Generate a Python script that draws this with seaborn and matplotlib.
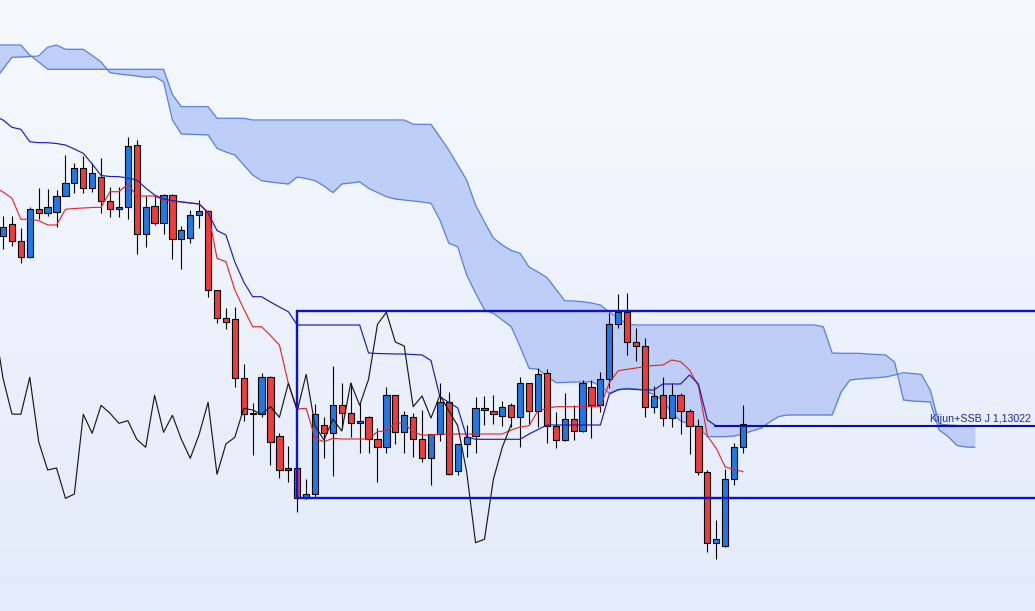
"""Ichimoku-график: свечи, Tenkan/Kijun/Chikou, облако и рамка диапазона."""
import matplotlib

matplotlib.use("Agg")
import matplotlib.pyplot as plt
import numpy as np
import seaborn as sns

sns.set_style("white")
plt.rcParams["font.family"] = ["Liberation Sans", "DejaVu Sans"]

# --------------------------------------------------------------------------- #
# Данные (цены), свечи с индексами 0..83
# --------------------------------------------------------------------------- #
opens = [1.14922, 1.15039, 1.14869, 1.14709, 1.15189, 1.15149, 1.15162, 1.15322, 1.15449, 1.15599,
         1.15399, 1.15515, 1.15275, 1.15189, 1.15209, 1.15832, 1.14939, 1.15222, 1.15055, 1.15329,
         1.14889, 1.14899, 1.15132, 1.15172, 1.14382, 1.14102, 1.14089, 1.13499, 1.13145, 1.13142,
         1.13509, 1.12922, 1.12582, 1.12599, 1.12299, 1.12339, 1.13035, 1.12949, 1.13229, 1.13149,
         1.13049, 1.13115, 1.12889, 1.12809, 1.13329, 1.12959, 1.13115, 1.12889, 1.12699, 1.12939,
         1.13259, 1.12572, 1.12842, 1.12922, 1.13199, 1.13175, 1.13122, 1.13229, 1.13109, 1.13449,
         1.13172, 1.13549, 1.13022, 1.12882, 1.13089, 1.12972, 1.13409, 1.13229, 1.13489, 1.14039,
         1.14159, 1.13862, 1.13822, 1.13215, 1.13329, 1.13102, 1.13329, 1.13175, 1.13025, 1.12565,
         1.11855, 1.11825, 1.12489, 1.12809]
highs = [1.15122, 1.15122, 1.15002, 1.15209, 1.15402, 1.15392, 1.15382, 1.15732, 1.15655, 1.15722,
         1.15655, 1.15699, 1.15409, 1.15409, 1.15909, 1.15882, 1.15322, 1.15322, 1.15342, 1.15342,
         1.15022, 1.15182, 1.15282, 1.15182, 1.14385, 1.14199, 1.14215, 1.13642, 1.13249, 1.13555,
         1.13522, 1.12955, 1.12822, 1.12605, 1.12489, 1.13242, 1.13109, 1.13622, 1.13449, 1.13455,
         1.13249, 1.13120, 1.12999, 1.13409, 1.13335, 1.13175, 1.13155, 1.13182, 1.12945, 1.13449,
         1.13365, 1.12845, 1.13032, 1.13315, 1.13322, 1.13332, 1.13275, 1.13249, 1.13509, 1.13455,
         1.13599, 1.13589, 1.13165, 1.13349, 1.13232, 1.13482, 1.13482, 1.13565, 1.14149, 1.14342,
         1.14355, 1.13999, 1.13899, 1.13422, 1.13509, 1.13449, 1.13349, 1.13189, 1.13089, 1.12582,
         1.12082, 1.12589, 1.12849, 1.13232]
lows = [1.14792, 1.14822, 1.14655, 1.14700, 1.15092, 1.15122, 1.15012, 1.15322, 1.15349, 1.15355,
        1.15365, 1.15149, 1.15109, 1.15109, 1.15089, 1.14742, 1.14815, 1.15032, 1.14942, 1.14689,
        1.14589, 1.14849, 1.14999, 1.14312, 1.14055, 1.13989, 1.13415, 1.13075, 1.12732, 1.13109,
        1.12632, 1.12499, 1.12465, 1.12165, 1.12295, 1.12315, 1.12699, 1.12525, 1.12989, 1.12915,
        1.12755, 1.12755, 1.12465, 1.12755, 1.12842, 1.12749, 1.12715, 1.12665, 1.12432, 1.12875,
        1.12529, 1.12529, 1.12715, 1.12749, 1.13032, 1.13042, 1.13022, 1.13015, 1.12815, 1.13032,
        1.13015, 1.12855, 1.12799, 1.12875, 1.12882, 1.12965, 1.12899, 1.13165, 1.13399, 1.13999,
        1.13732, 1.13675, 1.13115, 1.13149, 1.13022, 1.13009, 1.12942, 1.12742, 1.12532, 1.11765,
        1.11689, 1.11815, 1.12432, 1.12755]
closes = [1.15015, 1.14869, 1.14709, 1.15189, 1.15149, 1.15209, 1.15322, 1.15449, 1.15599, 1.15399,
          1.15549, 1.15275, 1.15189, 1.15209, 1.15822, 1.14939, 1.15209, 1.15055, 1.15329, 1.14889,
          1.14982, 1.15132, 1.15172, 1.14382, 1.14102, 1.14059, 1.13499, 1.13142, 1.13139, 1.13509,
          1.12865, 1.12582, 1.12602, 1.12299, 1.12342, 1.13139, 1.12949, 1.13229, 1.13149, 1.13049,
          1.13075, 1.12889, 1.12809, 1.13329, 1.12959, 1.13129, 1.12889, 1.12699, 1.12939, 1.13259,
          1.12539, 1.12842, 1.12909, 1.13199, 1.13182, 1.13139, 1.13215, 1.13109, 1.13449, 1.13172,
          1.13539, 1.13022, 1.12882, 1.13089, 1.12972, 1.13452, 1.13229, 1.13489, 1.14039, 1.14159,
          1.13862, 1.13822, 1.13215, 1.13322, 1.13102, 1.13329, 1.13175, 1.13025, 1.12565, 1.11855,
          1.11889, 1.12489, 1.12809, 1.13039]

# линии начинаются с индекса -1 (свеча слева за краем)
tenkan = [1.15412, 1.15362, 1.15299, 1.15089, 1.15089, 1.15077, 1.15032, 1.15032, 1.15189, 1.15197,
          1.15202, 1.15207, 1.15209, 1.15365, 1.15365, 1.15442, 1.15322, 1.15322, 1.15322, 1.15282,
          1.15265, 1.15265, 1.15252, 1.15242, 1.15162, 1.14699, 1.14665, 1.14382, 1.14192, 1.14015,
          1.14015, 1.13927, 1.13832, 1.13449, 1.13192, 1.13199, 1.12899, 1.12865, 1.12899, 1.12892,
          1.12892, 1.12892, 1.12892, 1.12965, 1.12975, 1.13049, 1.13049, 1.12962, 1.12932, 1.12932,
          1.12942, 1.12942, 1.12942, 1.12942, 1.12942, 1.12942, 1.12942, 1.12942, 1.12982, 1.13012,
          1.13025, 1.13175, 1.13197, 1.13215, 1.13215, 1.13215, 1.13215, 1.13215, 1.13215, 1.13452,
          1.13575, 1.13589, 1.13602, 1.13617, 1.13627, 1.13632, 1.13682, 1.13665, 1.13582, 1.13422,
          1.12922, 1.12799, 1.12612, 1.12589, 1.12565]
kijun = [1.16122, 1.16082, 1.16009, 1.15989, 1.15865, 1.15855, 1.15855, 1.15847, 1.15832, 1.15792,
         1.15749, 1.15642, 1.15527, 1.15517, 1.15515, 1.15502, 1.15482, 1.15402, 1.15332, 1.15292,
         1.15277, 1.15262, 1.15252, 1.15242, 1.15152, 1.14977, 1.14932, 1.14662, 1.14462, 1.14315,
         1.14315, 1.14262, 1.14212, 1.14165, 1.14032, 1.14032, 1.14032, 1.14032, 1.14032, 1.14032,
         1.14032, 1.14032, 1.13752, 1.13747, 1.13745, 1.13742, 1.13742, 1.13737, 1.13732, 1.13677,
         1.13315, 1.13259, 1.13202, 1.12915, 1.12889, 1.12889, 1.12889, 1.12889, 1.12889, 1.12889,
         1.12942, 1.12987, 1.13032, 1.13032, 1.13032, 1.13032, 1.13032, 1.13032, 1.13032, 1.13342,
         1.13387, 1.13392, 1.13387, 1.13382, 1.13382, 1.13442, 1.13442, 1.13442, 1.13532, 1.13442,
         1.13082, 1.13022, 1.13022, 1.13022, 1.13022]
# облако: индексы -1..109 (сдвиг на 26 вперёд)
span_a = [1.16832, 1.16832, 1.16832, 1.16832, 1.16732, 1.16662, 1.16589, 1.16589, 1.16589, 1.16589,
          1.16589, 1.16589, 1.16589, 1.16589, 1.16589, 1.16589, 1.16589, 1.16589, 1.16589, 1.16589,
          1.16337, 1.16215, 1.16215, 1.16215, 1.16215, 1.16099, 1.16099, 1.16099, 1.16099, 1.16082,
          1.16082, 1.16082, 1.16082, 1.16082, 1.16082, 1.16082, 1.16082, 1.16082, 1.16082, 1.16082,
          1.16082, 1.16082, 1.16082, 1.16082, 1.16082, 1.16082, 1.16082, 1.16039, 1.16039, 1.16039,
          1.15912, 1.15782, 1.15632, 1.15482, 1.15232, 1.15062, 1.14902, 1.14832, 1.14777, 1.14749,
          1.14612, 1.14562, 1.14507, 1.14392, 1.14275, 1.14272, 1.14265, 1.14252, 1.14232, 1.14162,
          1.14102, 1.14042, 1.14032, 1.14032, 1.14032, 1.14032, 1.14032, 1.14032, 1.14032, 1.14032,
          1.14032, 1.14032, 1.14032, 1.14032, 1.14032, 1.14032, 1.14032, 1.14032, 1.14032, 1.14032,
          1.14032, 1.14032, 1.14032, 1.14015, 1.13752, 1.13749, 1.13749, 1.13749, 1.13742, 1.13737,
          1.13732, 1.13662, 1.13282, 1.13272, 1.13267, 1.13262, 1.12982, 1.12917, 1.12827, 1.12812,
          1.12809]
span_b = [1.16472, 1.16592, 1.16709, 1.16712, 1.16717, 1.16722, 1.16809, 1.16832, 1.16789, 1.16789,
          1.16789, 1.16727, 1.16662, 1.16555, 1.16542, 1.16532, 1.16522, 1.16509, 1.16515, 1.16465,
          1.16082, 1.15942, 1.15939, 1.15936, 1.15932, 1.15799, 1.15762, 1.15732, 1.15632, 1.15532,
          1.15475, 1.15462, 1.15452, 1.15442, 1.15512, 1.15497, 1.15475, 1.15422, 1.15355, 1.15442,
          1.15452, 1.15465, 1.15399, 1.15357, 1.15315, 1.15292, 1.15282, 1.15272, 1.15262, 1.15249,
          1.15082, 1.14849, 1.14815, 1.14532, 1.14352, 1.14182, 1.14149, 1.14082, 1.14015, 1.13815,
          1.13599, 1.13589, 1.13522, 1.13455, 1.13457, 1.13462, 1.13462, 1.13465, 1.13422, 1.13349,
          1.13382, 1.13399, 1.13392, 1.13382, 1.13332, 1.13282, 1.13152, 1.13072, 1.13042, 1.13012,
          1.12917, 1.12915, 1.12915, 1.12922, 1.12942, 1.12972, 1.12999, 1.13062, 1.13117, 1.13132,
          1.13132, 1.13132, 1.13132, 1.13132, 1.13132, 1.13362, 1.13482, 1.13492, 1.13499, 1.13505,
          1.13512, 1.13532, 1.13555, 1.13547, 1.13539, 1.13382, 1.13042, 1.13032, 1.13027, 1.13022,
          1.13022]

CHIKOU_SHIFT = 26
box_left_bar = 33          # левая граница рамки диапазона
box_top, box_bottom = 1.14172, 1.12302
level_start_bar = 80       # начало уровня Kijun+SSB
level_price = 1.13022
level_label = "Kijun+SSB J 1,13022"

# --------------------------------------------------------------------------- #
BLUE_C = "#1f78e6"
RED_C = "#ef3b3b"
CLOUD = "#bccdf7"
CLOUD_EDGE = "#5a7ee0"

fig = plt.figure(figsize=(10.35, 6.11), dpi=100)
ax = fig.add_axes([0, 0, 1, 1])
xlim = (-0.34, 115.75)
ylim = (1.11172, 1.17282)

# фон — вертикальный градиент
grad = np.linspace(0, 1, 256)[:, None]
top_rgb = np.array([246, 249, 254]) / 255
bot_rgb = np.array([227, 235, 250]) / 255
bg = top_rgb + (bot_rgb - top_rgb) * grad[..., None]
ax.imshow(bg, extent=(*xlim, ylim[0], ylim[1]), origin="upper", aspect="auto", zorder=0)

# облако
x_span = np.arange(-1, -1 + len(span_a))
ax.fill_between(x_span, span_a, span_b, color=CLOUD, alpha=0.95, lw=0, zorder=1, interpolate=True)
sns.lineplot(x=x_span, y=span_a, ax=ax, color=CLOUD_EDGE, lw=0.9, estimator=None, zorder=2)
sns.lineplot(x=x_span, y=span_b, ax=ax, color=CLOUD_EDGE, lw=0.9, estimator=None, zorder=2)

# свечи
xc = np.arange(len(opens))
o, h, l, c = map(np.asarray, (opens, highs, lows, closes))
up = c >= o
ax.vlines(xc, l, h, color="black", lw=0.8, zorder=3)
body_lo = np.minimum(o, c)
body_h = np.maximum(np.abs(c - o), 0.00012)
ax.bar(xc, body_h, bottom=body_lo, width=0.7,
       color=np.where(up, BLUE_C, RED_C), edgecolor="black", linewidth=0.8, zorder=4)

# линии индикатора
x_line = np.arange(-1, -1 + len(tenkan))
sns.lineplot(x=x_line, y=tenkan, ax=ax, color="#e52a2a", lw=0.85, estimator=None, zorder=5)
sns.lineplot(x=x_line, y=kijun, ax=ax, color="#1c1cb8", lw=0.85, estimator=None, zorder=5)
chikou = closes[CHIKOU_SHIFT - 1:]
x_ch = np.arange(-1, -1 + len(chikou))
sns.lineplot(x=x_ch, y=chikou, ax=ax, color="#1a1a1a", lw=0.85, estimator=None, zorder=5)

# рамка диапазона и уровень
bx = box_left_bar - 0.03
ax.plot([xlim[1] + 1, bx, bx, xlim[1] + 1], [box_top, box_top, box_bottom, box_bottom],
        color="#0a12d6", lw=1.7, zorder=6, solid_joinstyle="miter")
ax.plot([level_start_bar - 0.1, xlim[1] + 1], [level_price, level_price],
        color="#0a0ea8", lw=1.5, zorder=6)
ax.text(xlim[1] - 0.5, level_price + 0.00022, level_label, ha="right", va="bottom",
        fontsize=7.7, color="#1c2a9c", zorder=7)

ax.set_xlim(*xlim)
ax.set_ylim(*ylim)
ax.set_axis_off()

fig.savefig("out.png", dpi=100)
plt.close(fig)
